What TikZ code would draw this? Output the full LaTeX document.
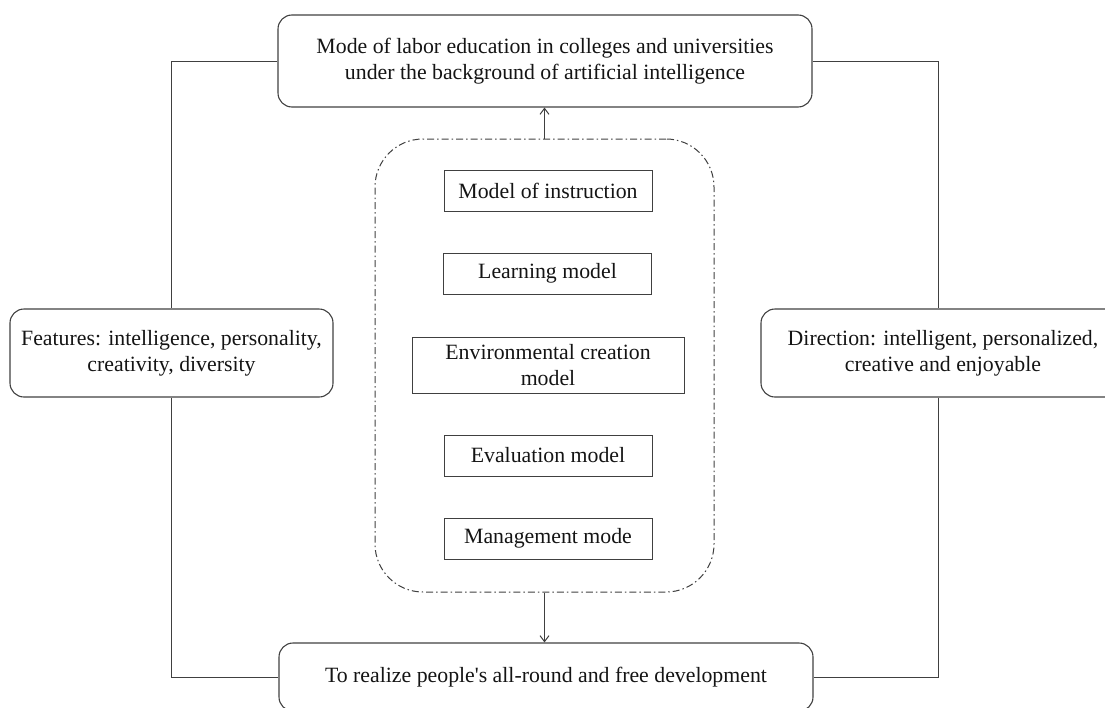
\documentclass[tikz,border=0pt]{standalone}
\usepackage{fontspec}
\setmainfont{Liberation Serif}
\usetikzlibrary{arrows.meta}
\begin{document}
\begin{tikzpicture}[x=1pt,y=-1pt,
  every node/.style={font=\fontsize{21.8}{26}\selectfont, text=black!92},
  rbox/.style={draw=black!75, line width=1.1pt, rounded corners=14pt, align=center, inner sep=0pt},
  ibox/.style={draw=black!75, line width=1pt, align=center, inner sep=0pt, minimum height=41pt, minimum width=208pt},
  conn/.style={draw=black!75, line width=1pt},
  arr/.style={conn, -{Straight Barb[length=6pt,width=9pt]}}]
\useasboundingbox (0,0) rectangle (1105,707);
\node[rbox, minimum width=534pt, minimum height=92pt] (top) at (545,61)
  {Mode of labor education in colleges and universities\\under the background of artificial intelligence};
\node[rbox, minimum width=323pt, minimum height=88pt] (left) at (171.5,353)
  {Features: intelligence, personality,\\creativity, diversity};
\node[rbox, minimum width=364pt, minimum height=88pt] (right) at (943,353)
  {Direction: intelligent, personalized,\\creative and enjoyable};
\node[rbox, minimum width=534pt, minimum height=68pt] (bot) at (546,677)
  {To realize people\textquotesingle s all-round and free development};
\node[draw=black!75, line width=1pt, dash pattern=on 7pt off 3pt on 1.5pt off 3pt,
  rounded corners=48pt, minimum width=339pt, minimum height=453pt, inner sep=0pt] (cont) at (544.5,365.5) {};
\node[ibox] (m1) at (548,190.5) {Model of instruction};
\node[ibox] (m2) at (547.5,273.5) {Learning model};
\node[ibox, minimum width=272pt, minimum height=56pt] (m3) at (548,365) {Environmental creation\\model};
\node[ibox] (m4) at (548,455.5) {Evaluation model};
\node[ibox] (m5) at (548,538.5) {Management mode};
\coordinate (rx) at (938,0);
\draw[arr] (cont.north) -- (cont.north |- top.south);
\draw[arr] (cont.south) -- (cont.south |- bot.north);
\draw[conn] (top.west) -| (left.north);
\draw[conn] (left.south) |- (bot.west);
\draw[conn] (top.east) -| (right.north -| rx);
\draw[conn] (right.south -| rx) |- (bot.east);
\end{tikzpicture}
\end{document}
